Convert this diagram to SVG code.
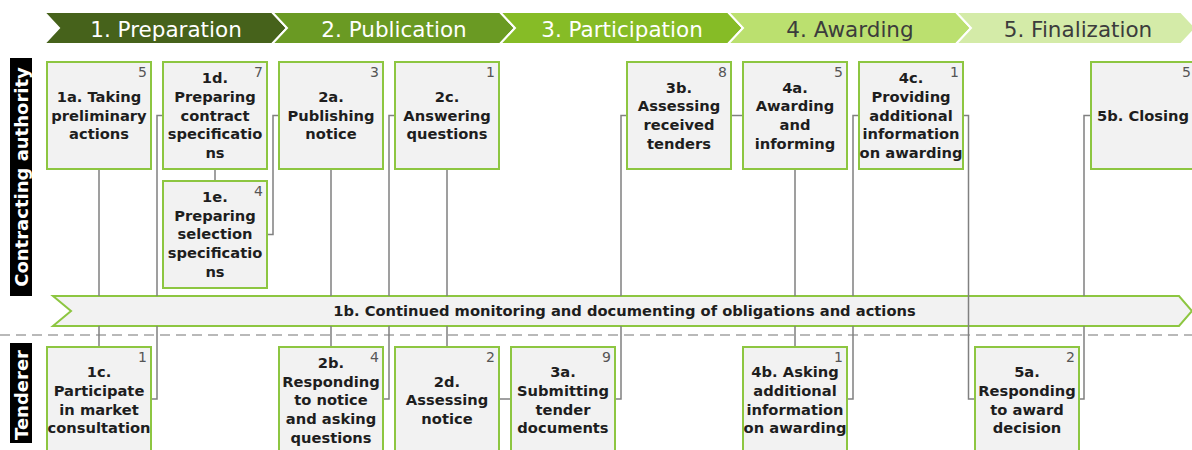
<svg xmlns="http://www.w3.org/2000/svg" width="1192" height="450" viewBox="0 0 1192 450">
<style>
.bg{fill:#ffffff}
.chev{stroke:#ffffff;stroke-width:2}
.ht{font-family:"DejaVu Sans","Liberation Sans",sans-serif;font-size:21.5px;text-anchor:middle}
.lane{fill:#000000}
.lt{font-family:"DejaVu Sans","Liberation Sans",sans-serif;font-size:18px;font-weight:bold;fill:#ffffff;text-anchor:middle}
.box{fill:#f2f2f2;stroke:#8dc641;stroke-width:2}
.bt{font-family:"DejaVu Sans","Liberation Sans",sans-serif;font-size:14.7px;font-weight:bold;fill:#1e1e1e;text-anchor:middle}
.num{font-family:"DejaVu Sans","Liberation Sans",sans-serif;font-size:14px;fill:#555555;text-anchor:end}
.con{fill:none;stroke:#808080;stroke-width:1.5}
.dash{stroke:#a3a3a3;stroke-width:1.5;stroke-dasharray:10 6}
</style>
<rect class="bg" x="0" y="0" width="1192" height="450"/>

<g id="phases">
  <g id="phase1"><polygon class="chev" fill="#46621b" points="44,12 272,12 287,28 272,44 44,44 59,28"/><text class="ht" x="166" y="36.5" fill="#ffffff">1. Preparation</text></g>
  <g id="phase2"><polygon class="chev" fill="#6a9a23" points="272,12 500,12 515,28 500,44 272,44 287,28"/><text class="ht" x="394" y="36.5" fill="#ffffff">2. Publication</text></g>
  <g id="phase3"><polygon class="chev" fill="#86bc26" points="500,12 728,12 743,28 728,44 500,44 515,28"/><text class="ht" x="622" y="36.5" fill="#ffffff">3. Participation</text></g>
  <g id="phase4"><polygon class="chev" fill="#bbe06f" points="728,12 956,12 971,28 956,44 728,44 743,28"/><text class="ht" x="850" y="36.5" fill="#3c3c3c">4. Awarding</text></g>
  <g id="phase5"><polygon class="chev" fill="#d4eba8" points="956,12 1181,12 1196,28 1181,44 956,44 971,28"/><text class="ht" x="1078" y="36.5" fill="#3c3c3c">5. Finalization</text></g>
</g>

<g id="lane-contracting"><rect class="lane" x="10" y="58" width="22" height="238"/><text class="lt" transform="translate(28,177) rotate(-90)">Contracting authority</text></g>
<g id="lane-tenderer"><rect class="lane" x="10" y="343" width="22" height="100"/><text class="lt" transform="translate(28,395) rotate(-90)">Tenderer</text></g>

<line class="dash" x1="0" y1="335" x2="1192" y2="335"/>

<g id="n1b"><polygon class="box" points="53,296 1179,296 1192,311 1179,326 53,326 71,311"/><text class="bt" x="624.5" y="315.5">1b. Continued monitoring and documenting of obligations and actions</text></g>

<g id="connectors">
  <path class="con" d="M99 169 V296 M99 326 V347"/>
  <path class="con" d="M163 115.5 H157 V296 M157 326 V399 H151"/>
  <path class="con" d="M215 169 V181"/>
  <path class="con" d="M267 234.5 H273 V115.5 H279"/>
  <path class="con" d="M331 169 V296 M331 326 V347"/>
  <path class="con" d="M383 399 H389 V326 M389 296 V115.5 H395"/>
  <path class="con" d="M447 169 V296 M447 326 V347"/>
  <path class="con" d="M499 399 H511"/>
  <path class="con" d="M615 399 H621 V326 M621 296 V115.5 H627"/>
  <path class="con" d="M731 115.5 H743"/>
  <path class="con" d="M795 169 V296 M795 326 V347"/>
  <path class="con" d="M847 399 H853 V326 M853 296 V115.5 H859"/>
  <path class="con" d="M963 115.5 H968.5 V399 H975"/>
  <path class="con" d="M1079 399 H1084 V326 M1084 296 V115.5 H1091"/>
</g>

<g id="n1a"><rect class="box" x="47" y="62" width="104" height="107"/><text class="num" x="147" y="77">5</text><text class="bt"><tspan x="99" y="102">1a. Taking</tspan><tspan x="99" y="120.7">preliminary</tspan><tspan x="99" y="139.4">actions</tspan></text></g>
<g id="n1d"><rect class="box" x="163" y="62" width="104" height="107"/><text class="num" x="263" y="77">7</text><text class="bt"><tspan x="215" y="83.3">1d.</tspan><tspan x="215" y="102">Preparing</tspan><tspan x="215" y="120.7">contract</tspan><tspan x="215" y="139.4">specificatio</tspan><tspan x="215" y="158.1">ns</tspan></text></g>
<g id="n1e"><rect class="box" x="163" y="181" width="104" height="107"/><text class="num" x="263" y="196">4</text><text class="bt"><tspan x="215" y="202">1e.</tspan><tspan x="215" y="220.7">Preparing</tspan><tspan x="215" y="239.4">selection</tspan><tspan x="215" y="258.1">specificatio</tspan><tspan x="215" y="276.8">ns</tspan></text></g>
<g id="n2a"><rect class="box" x="279" y="62" width="104" height="107"/><text class="num" x="379" y="77">3</text><text class="bt"><tspan x="331" y="102">2a.</tspan><tspan x="331" y="120.7">Publishing</tspan><tspan x="331" y="139.4">notice</tspan></text></g>
<g id="n2c"><rect class="box" x="395" y="62" width="104" height="107"/><text class="num" x="495" y="77">1</text><text class="bt"><tspan x="447" y="102">2c.</tspan><tspan x="447" y="120.7">Answering</tspan><tspan x="447" y="139.4">questions</tspan></text></g>
<g id="n3b"><rect class="box" x="627" y="62" width="104" height="107"/><text class="num" x="727" y="77">8</text><text class="bt"><tspan x="679" y="92.6">3b.</tspan><tspan x="679" y="111.3">Assessing</tspan><tspan x="679" y="130">received</tspan><tspan x="679" y="148.7">tenders</tspan></text></g>
<g id="n4a"><rect class="box" x="743" y="62" width="104" height="107"/><text class="num" x="843" y="77">5</text><text class="bt"><tspan x="795" y="92.6">4a.</tspan><tspan x="795" y="111.3">Awarding</tspan><tspan x="795" y="130">and</tspan><tspan x="795" y="148.7">informing</tspan></text></g>
<g id="n4c"><rect class="box" x="859" y="62" width="104" height="107"/><text class="num" x="959" y="77">1</text><text class="bt"><tspan x="911" y="83.3">4c.</tspan><tspan x="911" y="102">Providing</tspan><tspan x="911" y="120.7">additional</tspan><tspan x="911" y="139.4">information</tspan><tspan x="911" y="158.1">on awarding</tspan></text></g>
<g id="n5b"><rect class="box" x="1091" y="62" width="104" height="107"/><text class="num" x="1191" y="77">5</text><text class="bt"><tspan x="1143" y="120.7">5b. Closing</tspan></text></g>

<g id="n1c"><rect class="box" x="47" y="347" width="104" height="107"/><text class="num" x="147" y="362">1</text><text class="bt"><tspan x="99" y="377.2">1c.</tspan><tspan x="99" y="395.9">Participate</tspan><tspan x="99" y="414.6">in market</tspan><tspan x="99" y="433.3">consultation</tspan></text></g>
<g id="n2b"><rect class="box" x="279" y="347" width="104" height="107"/><text class="num" x="379" y="362">4</text><text class="bt"><tspan x="331" y="367.8">2b.</tspan><tspan x="331" y="386.5">Responding</tspan><tspan x="331" y="405.2">to notice</tspan><tspan x="331" y="423.9">and asking</tspan><tspan x="331" y="442.6">questions</tspan></text></g>
<g id="n2d"><rect class="box" x="395" y="347" width="104" height="107"/><text class="num" x="495" y="362">2</text><text class="bt"><tspan x="447" y="386.5">2d.</tspan><tspan x="447" y="405.2">Assessing</tspan><tspan x="447" y="423.9">notice</tspan></text></g>
<g id="n3a"><rect class="box" x="511" y="347" width="104" height="107"/><text class="num" x="611" y="362">9</text><text class="bt"><tspan x="563" y="377.2">3a.</tspan><tspan x="563" y="395.9">Submitting</tspan><tspan x="563" y="414.6">tender</tspan><tspan x="563" y="433.3">documents</tspan></text></g>
<g id="n4b"><rect class="box" x="743" y="347" width="104" height="107"/><text class="num" x="843" y="362">1</text><text class="bt"><tspan x="795" y="377.2">4b. Asking</tspan><tspan x="795" y="395.9">additional</tspan><tspan x="795" y="414.6">information</tspan><tspan x="795" y="433.3">on awarding</tspan></text></g>
<g id="n5a"><rect class="box" x="975" y="347" width="104" height="107"/><text class="num" x="1075" y="362">2</text><text class="bt"><tspan x="1027" y="377.2">5a.</tspan><tspan x="1027" y="395.9">Responding</tspan><tspan x="1027" y="414.6">to award</tspan><tspan x="1027" y="433.3">decision</tspan></text></g>
</svg>
